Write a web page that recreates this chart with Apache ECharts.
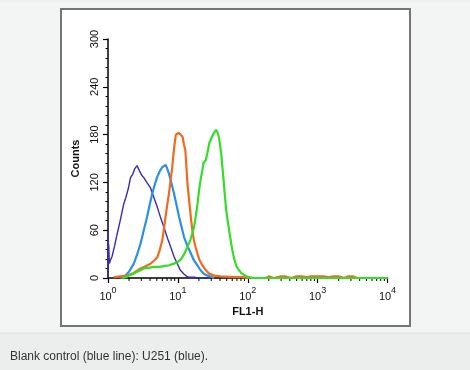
<!DOCTYPE html>
<html>
<head>
<meta charset="utf-8">
<script src="https://cdn.jsdelivr.net/npm/echarts@6/dist/echarts.min.js"></script>
<style>
html,body{margin:0;padding:0;background:#f3f5f4;}
#c{width:470px;height:370px;}
</style>
</head>
<body>
<div id="c"></div>
<script>
// ---- data (x = FL1-H intensity, y = counts) ----
var blankControl = [[1.0,0],[1.0,58],[1.01,32],[1.025,42],[1.045,18],[1.08,22],[1.142,27],[1.24,40],[1.35,55],[1.46,68],[1.59,83],[1.68,93],[1.8,101],[1.95,112],[2.1,126],[2.25,130],[2.41,137],[2.6,141],[2.77,136],[3.03,129],[3.26,126],[3.53,121],[3.8,117],[4.06,113],[4.5,102],[5.07,89],[5.6,77],[6.3,64],[7.1,50],[7.9,39],[8.8,27],[9.8,18],[10.8,10],[12.2,5],[13.4,2],[14.4,1],[17,1],[20.3,0],[27,0]];
var u251Blue = [[1.5,0],[1.78,3],[2.0,8],[2.34,18],[2.6,29],[2.92,43],[3.25,60],[3.63,77],[3.95,92],[4.3,106],[4.7,118],[5.07,127],[5.5,134],[5.97,139],[6.3,141],[6.67,142],[7.0,138],[7.45,131],[8.1,119],[8.8,106],[9.6,91],[10.4,77],[11.3,64],[12.2,52],[13.7,40],[15.3,31],[17,22],[19,16],[21,10],[23.7,5],[26.5,3],[29.6,1.5],[33,0]];
var u251Orange = [[1.21,1],[1.5,2],[1.87,3],[2.3,6],[2.92,12],[3.5,15],[4.06,18],[4.6,22],[5.07,26],[5.5,35],[5.97,47],[6.3,61],[6.67,77],[7.05,92],[7.45,106],[7.9,124],[8.3,139],[8.8,162],[9.36,180],[10.2,182],[11.0,180],[11.7,177],[12.2,168],[12.8,160],[13.7,119],[14.5,97],[15.3,77],[16.1,60],[17,47],[18,38],[19,31],[20.5,22],[22.4,16],[25,10],[28,5.5],[33,3],[41,2],[63,1],[85,1],[100,0],[150,0],[160,2],[180,0],[200,2],[235,0],[300,2],[340,2],[420,0],[500,2],[600,2],[700,1],[800,2],[1000,2],[1200,2],[1450,1],[1700,2],[2000,2],[2400,0],[2700,2],[3200,2],[3700,0],[10000,0]];
var u251Green = [[1.6,0],[1.78,1],[2.0,3],[2.34,5.5],[2.8,9],[3.26,12],[3.9,13],[4.54,14],[5.4,14],[6.3,15],[7.5,16],[8.8,18],[9.9,20],[11,23],[12.3,30],[13.7,39],[15,47],[16.1,56],[17.2,66],[18,77],[19.1,93],[20.1,110],[21.2,124],[22.4,135],[23.2,144],[25.1,148],[26.6,158],[28.3,170],[30.3,176],[32.3,181],[35.3,186],[36.9,183],[38.6,177],[40,168],[41.7,156],[43.3,140],[45.1,123],[47,104],[49.2,85],[52,70],[55,56],[58,43],[61.4,31],[65,22],[68.7,15],[75,10],[81,6],[95.7,2],[119,0],[10000,0]];
var xMinorTicks = [2,3,4,5,6,7,8,9,20,30,40,50,60,70,80,90,200,300,400,500,600,700,800,900,2000,3000,4000,5000,6000,7000,8000,9000];
var yMin = 0, yMax = 300, yStep = 60;
var xMin = 1, xMax = 10000;
var caption = 'Blank control (blue line): U251 (blue).';

var chart = echarts.init(document.getElementById('c'), null, {renderer:'canvas'});
function lineSeries(name, data, color, width){
  return {name:name, type:'line', data:data, showSymbol:false, symbol:'none',
    lineStyle:{color:color, width:width}, itemStyle:{color:color}, animation:false, z:3};
}
var option = {
  backgroundColor:'#f3f5f4',
  animation:false,
  graphic:[
    {type:'rect', z:-10, shape:{x:0,y:333,width:470,height:37}, style:{fill:'#eceeed'}},
    {type:'line', z:-10, shape:{x1:0,y1:333,x2:470,y2:333}, style:{stroke:'#e0e2e1', lineWidth:1}},
    {type:'line', z:-10, shape:{x1:0,y1:1,x2:470,y2:1}, style:{stroke:'#e6e8e7', lineWidth:1}},
    {type:'rect', z:-10, shape:{x:61,y:9,width:349,height:317}, style:{fill:'#ffffff', stroke:'#757575', lineWidth:2}},
    {type:'text', z:10, x:10, y:357, style:{text:caption, font:'12px Arial, "Liberation Sans", sans-serif', fill:'#333333', verticalAlign:'middle'}}
  ],
  grid:{left:108, right:82.5, top:39, bottom:92},
  xAxis:{
    type:'log', logBase:10, min:xMin, max:xMax,
    name:'FL1-H', nameLocation:'middle', nameGap:19,
    nameTextStyle:{fontFamily:'Arial, "Liberation Sans"', fontSize:11, color:'#111', fontWeight:'bold'},
    axisLine:{lineStyle:{color:'#000', width:1.5}},
    axisTick:{show:true, length:5, lineStyle:{color:'#000', width:1.2}},
    splitLine:{show:false},
    axisLabel:{
      margin:8, color:'#111',
      formatter:function(v){ return '{b|10}{s|' + Math.round(Math.log10(v)) + '}'; },
      rich:{
        b:{fontFamily:'Arial, "Liberation Sans"', fontSize:11, color:'#111', lineHeight:16, verticalAlign:'bottom'},
        s:{fontFamily:'Arial, "Liberation Sans"', fontSize:9, color:'#111', lineHeight:16, verticalAlign:'top'}
      }
    }
  },
  yAxis:{
    type:'value', min:yMin, max:yMax, interval:yStep,
    name:'Counts', nameLocation:'middle', nameGap:19, nameRotate:90,
    nameTextStyle:{fontFamily:'Arial, "Liberation Sans"', fontSize:11, color:'#111', fontWeight:'bold'},
    axisLine:{show:true, lineStyle:{color:'#000', width:1.5}},
    axisTick:{show:true, length:5, lineStyle:{color:'#000', width:1.2}},
    minorTick:{show:true, splitNumber:5, length:2.5, lineStyle:{color:'#000', width:1}},
    splitLine:{show:false},
    axisLabel:{rotate:90, margin:8, fontFamily:'Arial, "Liberation Sans"', fontSize:11, color:'#111'}
  },
  series:[
    {type:'custom', coordinateSystem:'cartesian2d', clip:false, silent:true, z:1,
     data:xMinorTicks.map(function(v){return [v,0];}),
     encode:{x:0,y:1},
     renderItem:function(params, api){
       var p = api.coord([api.value(0), 0]);
       return {type:'line', shape:{x1:p[0], y1:p[1], x2:p[0], y2:p[1]+3}, style:{stroke:'#000', lineWidth:1}};
     }},
    lineSeries('Blank control', blankControl, '#3a2bb4', 1.4),
    lineSeries('U251 blue', u251Blue, '#2a90e4', 2.2),
    lineSeries('U251 orange', u251Orange, '#f26a1c', 2.2),
    lineSeries('U251 green', u251Green, '#33dd2a', 2.2)
  ]
};
chart.setOption(option);
</script>
</body>
</html>
